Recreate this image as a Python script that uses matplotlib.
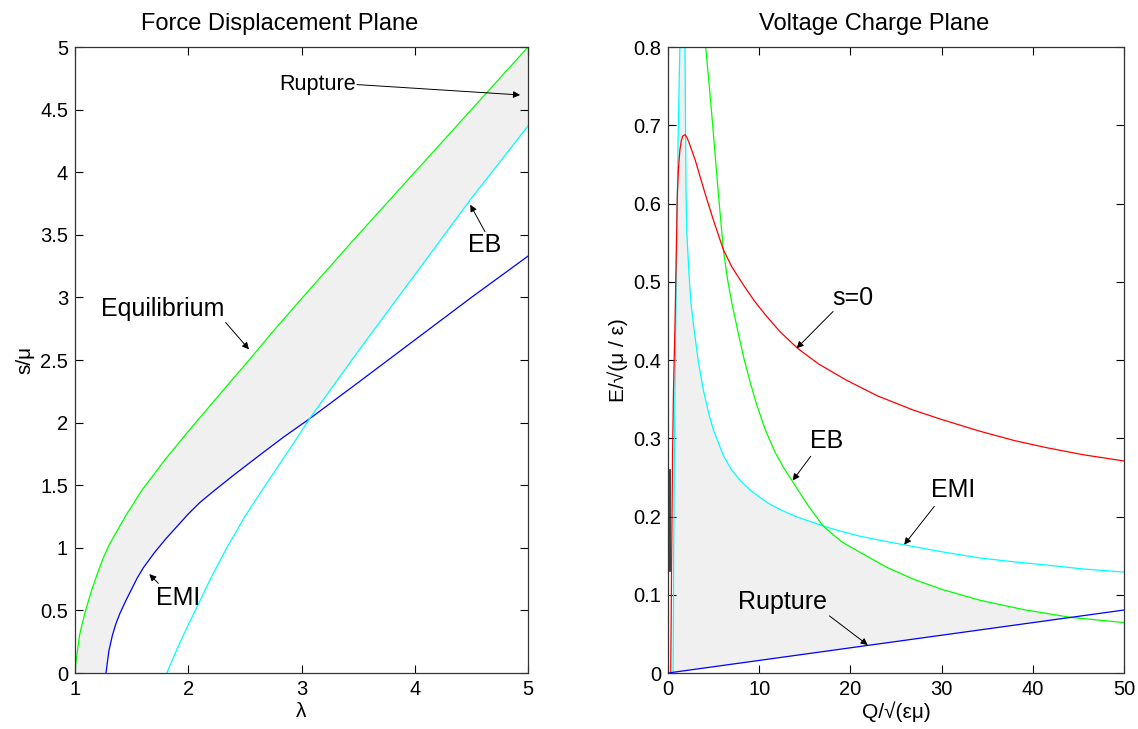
import numpy as np
import matplotlib
matplotlib.use("Agg")
import matplotlib.pyplot as plt

plt.rcParams['font.family'] = ['Liberation Sans', 'DejaVu Sans']

# ---- left panel: force displacement plane ----
equil_lam = [1.0, 1.01, 1.025, 1.04, 1.06, 1.088, 1.12, 1.15, 1.2, 1.25, 1.3, 1.35, 1.4, 1.45,
             1.5, 1.59, 1.7, 1.8, 1.9, 2.0, 2.15, 2.3, 2.5, 2.75, 3.0, 3.5, 4.0, 4.5, 5.0]
equil_s = [0.0, 0.1, 0.2, 0.3, 0.38, 0.48, 0.58, 0.67, 0.8, 0.92, 1.02, 1.1, 1.18, 1.26,
           1.33, 1.46, 1.59, 1.71, 1.82, 1.93, 2.09, 2.25, 2.46, 2.73, 2.99, 3.5, 4.0, 4.5, 5.0]

emi_lam = [1.274, 1.285, 1.3, 1.33, 1.36, 1.397, 1.45, 1.5, 1.55, 1.603, 1.7, 1.8, 1.9, 2.0,
           2.1, 2.22, 2.4, 2.63, 2.85, 3.07, 3.5, 4.0, 4.5, 5.0]
emi_s = [0.0, 0.08, 0.18, 0.3, 0.39, 0.477, 0.58, 0.67, 0.76, 0.84, 0.96, 1.07, 1.17, 1.27,
         1.36, 1.45, 1.58, 1.74, 1.89, 2.03, 2.32, 2.66, 3.0, 3.33]

eb_lam = [1.81, 1.9, 2.0, 2.1, 2.2, 2.34, 2.5, 2.63, 2.77, 2.9, 3.07, 3.5, 4.0, 4.49, 5.0]
eb_s = [0.0, 0.19, 0.385, 0.57, 0.76, 1.0, 1.25, 1.43, 1.62, 1.795, 2.03, 2.57, 3.18, 3.78, 4.37]

# ---- right panel: voltage charge plane ----
s0_q = [0.3, 0.4, 0.5, 0.6, 0.77, 1.02, 1.15, 1.3, 1.45, 1.6, 1.86, 2.05, 2.3, 3.0, 3.5, 4.06,
        5.0, 6.07, 7.0, 8.26, 9.5, 10.8, 12.3, 14.2, 16.5, 19.6, 23.0, 26.9, 30.0, 34.2, 38.0,
        41.5, 45.5, 50.0]
s0_e = [0.0, 0.15, 0.28, 0.36, 0.447, 0.61, 0.645, 0.668, 0.68, 0.686, 0.688, 0.685, 0.678,
        0.655, 0.635, 0.613, 0.578, 0.541, 0.519, 0.496, 0.475, 0.456, 0.436, 0.415, 0.395,
        0.374, 0.354, 0.336, 0.324, 0.309, 0.297, 0.288, 0.279, 0.271]

emi_l_q = [0.55, 0.58, 0.62, 0.7, 0.8, 0.95, 1.1, 1.3, 1.45]
emi_l_e = [0.0, 0.05, 0.15, 0.28, 0.4, 0.55, 0.68, 0.8, 0.9]
emi_r_q = [1.8, 1.86, 1.97, 2.05, 2.3, 2.5, 2.77, 3.3, 3.87, 4.5, 5.0, 6.07, 7.0, 8.0, 9.0,
           10.0, 11.0, 12.28, 14.0, 15.5, 17.0, 19.0, 21.0, 23.5, 25.8, 30.0, 34.2, 38.0,
           41.5, 45.5, 50.0]
emi_r_e = [0.9, 0.8, 0.62, 0.566, 0.51, 0.475, 0.447, 0.40, 0.362, 0.33, 0.31, 0.278, 0.259,
           0.245, 0.234, 0.225, 0.217, 0.209, 0.2, 0.194, 0.188, 0.181, 0.175, 0.169, 0.164,
           0.155, 0.147, 0.142, 0.138, 0.133, 0.129]

eb_q = [4.13, 4.45, 4.79, 5.15, 5.52, 6.07, 6.5, 6.98, 7.6, 8.26, 9.0, 9.72, 10.7, 11.7, 12.7,
        13.7, 15.3, 17.0, 19.0, 21.4, 24.0, 26.9, 30.0, 34.2, 39.0, 44.1, 50.0]
eb_e = [0.8, 0.76, 0.715, 0.665, 0.613, 0.541, 0.505, 0.474, 0.44, 0.405, 0.372, 0.343, 0.31,
        0.283, 0.262, 0.244, 0.215, 0.188, 0.168, 0.152, 0.135, 0.12, 0.107, 0.093, 0.081,
        0.0712, 0.0645]

rup_q = [0.0, 50.0]
rup_e = [0.0, 0.0805]

dark_q = [0.2, 0.2]
dark_e = [0.13, 0.26]

FILL = '#f0f0f0'
LW = 0.9

fig = plt.figure(figsize=(11.38, 7.29), dpi=100)
ax1 = fig.add_axes([0.0659, 0.0768, 0.3981, 0.8587])
ax2 = fig.add_axes([0.587, 0.0768, 0.4007, 0.8587])

# left: shaded region between equilibrium and max(EMI, EB)
grid = np.linspace(1, 5, 800)
top = np.interp(grid, equil_lam, equil_s)
bot = np.maximum(np.interp(grid, emi_lam, emi_s, left=0.0),
                 np.interp(grid, eb_lam, eb_s, left=0.0))
ax1.fill_between(grid, bot, top, where=top >= bot, color=FILL, lw=0)
ax1.plot(equil_lam, equil_s, color='#00ff00', lw=LW)
ax1.plot(emi_lam, emi_s, color='#0000ff', lw=LW)
ax1.plot(eb_lam, eb_s, color='#00ffff', lw=LW)

ax1.set_xlim(1, 5)
ax1.set_ylim(0, 5)
ax1.set_xticks([1, 2, 3, 4, 5])
ax1.set_yticks(np.arange(0, 5.01, 0.5))
ax1.set_yticklabels(['0', '0.5', '1', '1.5', '2', '2.5', '3', '3.5', '4', '4.5', '5'])
ax1.set_xlabel('λ', fontsize=15, labelpad=2)
ax1.set_ylabel('s/μ', fontsize=15, labelpad=4)
ax1.set_title('Force Displacement Plane', fontsize=17, pad=12, x=0.4525)

arr = dict(arrowstyle='-|>', color='black', lw=0.7, mutation_scale=10, shrinkA=0, shrinkB=0)
ax1.annotate('', xy=(4.93, 4.617), xytext=(3.49, 4.70), arrowprops=arr)
ax1.text(3.14, 4.70, 'Rupture', fontsize=15.5, ha='center', va='center')
ax1.annotate('', xy=(4.49, 3.74), xytext=(4.62, 3.525), arrowprops=arr)
ax1.text(4.62, 3.42, 'EB', fontsize=18, ha='center', va='center')
ax1.annotate('', xy=(2.536, 2.585), xytext=(2.33, 2.80), arrowprops=arr)
ax1.text(1.773, 2.91, 'Equilibrium', fontsize=18, ha='center', va='center')
ax1.annotate('', xy=(1.656, 0.79), xytext=(1.736, 0.716), arrowprops=arr)
ax1.text(1.912, 0.597, 'EMI', fontsize=18, ha='center', va='center')

# right: shaded region below min(EMI, EB) and above rupture
qg = np.linspace(0.55, 50, 2000)
emi_q_all = emi_l_q + emi_r_q
emi_e_all = emi_l_e + emi_r_e
upper = np.minimum(np.interp(qg, emi_q_all, emi_e_all),
                   np.interp(qg, eb_q, eb_e, left=np.inf))
lower = np.interp(qg, rup_q, rup_e)
ax2.fill_between(qg, lower, upper, where=upper >= lower, color=FILL, lw=0)
ax2.plot(emi_l_q, emi_l_e, color='#00ffff', lw=LW)
ax2.plot(emi_r_q, emi_r_e, color='#00ffff', lw=LW)
ax2.plot(eb_q, eb_e, color='#00ff00', lw=LW)
ax2.plot(s0_q, s0_e, color='#ff0000', lw=LW)
ax2.plot(rup_q, rup_e, color='#0000ff', lw=LW)
ax2.plot(dark_q, dark_e, color='#202020', lw=1.2)

ax2.set_xlim(0, 50)
ax2.set_ylim(0, 0.8)
ax2.set_xticks([0, 10, 20, 30, 40, 50])
ax2.set_yticks(np.arange(0, 0.81, 0.1))
ax2.set_yticklabels(['0', '0.1', '0.2', '0.3', '0.4', '0.5', '0.6', '0.7', '0.8'])
ax2.set_xlabel('Q/√(εμ)', fontsize=15, labelpad=2)
ax2.set_ylabel('E/√(μ / ε)', fontsize=15, labelpad=4)
ax2.set_title('Voltage Charge Plane', fontsize=17, pad=12, x=0.452)

ax2.annotate('', xy=(14.1, 0.415), xytext=(18.1, 0.462), arrowprops=arr)
ax2.text(20.3, 0.479, 's=0', fontsize=18, ha='center', va='center')
ax2.annotate('', xy=(13.67, 0.246), xytext=(15.65, 0.277), arrowprops=arr)
ax2.text(17.4, 0.296, 'EB', fontsize=18, ha='center', va='center')
ax2.annotate('', xy=(25.9, 0.164), xytext=(29.2, 0.213), arrowprops=arr)
ax2.text(31.3, 0.234, 'EMI', fontsize=18, ha='center', va='center')
ax2.annotate('', xy=(21.9, 0.0358), xytext=(17.7, 0.073), arrowprops=arr)
ax2.text(12.6, 0.091, 'Rupture', fontsize=18, ha='center', va='center')

for ax in (ax1, ax2):
    ax.tick_params(direction='in', top=True, right=True, length=6, width=0.8,
                   labelsize=14.5, pad=5)
    for sp in ax.spines.values():
        sp.set_linewidth(0.9)
        sp.set_color('#333333')

fig.savefig('out.png', dpi=100)
